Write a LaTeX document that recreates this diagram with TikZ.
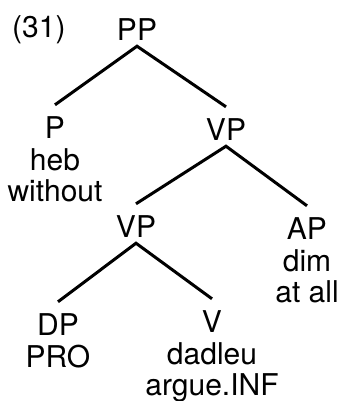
\documentclass[tikz,border=0pt]{standalone}
\usepackage{fontspec}
\setmainfont{TeX Gyre Heros}
\usetikzlibrary{positioning}

\tikzset{
  cat/.style={inner sep=0pt,text height=33bp,text depth=6bp,anchor=base},
  word/.style={inner sep=0pt,text height=26bp,text depth=5bp},
  branch/.style={line width=3bp}
}

\begin{document}
\begin{tikzpicture}[x=1bp,y=-1bp,font=\fontsize{30bp}{33bp}\selectfont,node distance=0pt]
\useasboundingbox (0,0) rectangle (337,401);

% example number
\node[anchor=base west,inner sep=0pt] (num) at (12,37) {(31)};

% categories
\node[cat] (pp) at (137,40) {PP};
\node[cat] (p) at (55,138) {P};
\node[cat] (vp) at (226,140) {VP};
\node[cat] (vpl) at (136,237) {VP};
\node[cat] (ap) at (307,239) {AP};
\node[cat] (dp) at (58,335) {DP};
\node[cat] (v) at (212,332) {V};

% words
\node[word,below=of p] (heb) {heb};
\node[word,below=of heb] (without) {without};
\node[word,below=of ap] (dim) {dim};
\node[word,below=of dim] (atall) {at all};
\node[word,below=of dp] (pro) {PRO};
\node[word,below=of v] (dadleu) {dadleu};
\node[word,below=of dadleu] (argue) {argue.INF};

% branches
\draw[branch] (p.north) -- (pp.south) -- (vp.north);
\draw[branch] (vpl.north) -- (vp.south) -- (ap.north);
\draw[branch] (dp.north) -- (vpl.south) -- (v.north);

\end{tikzpicture}
\end{document}
